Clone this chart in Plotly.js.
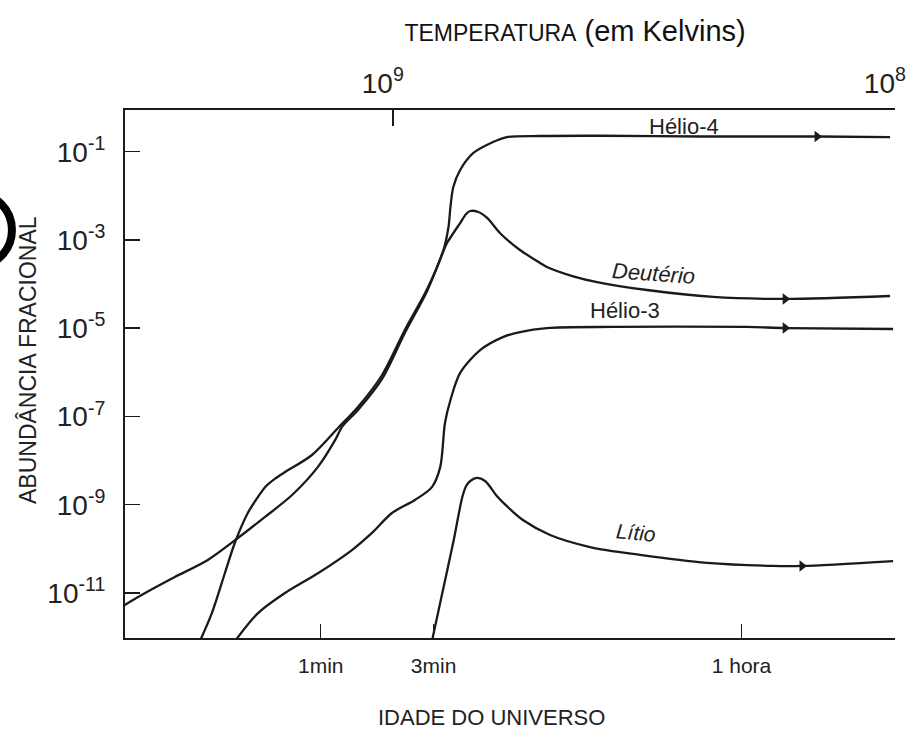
<!DOCTYPE html>
<html>
<head>
<meta charset="utf-8">
<script src="https://cdn.plot.ly/plotly-3.0.1.min.js"></script>
<style>html,body{margin:0;padding:0;background:#fff;}#chart{width:907px;height:734px;}</style>
</head>
<body>
<div id="chart"></div>
<script>
// ---- Data (time in seconds, fractional abundance) ----
const timeHe4 = [17.8, 20.8, 23.6, 26.0, 29.5, 32.6, 34.9, 38.5, 42.4, 55.1, 71.0, 86.2, 109, 136, 169, 198, 208, 212, 218, 233, 265, 321, 367, 507, 908, 2404, 7516, 15280];
const abundHe4 = [5.1e-13, 3.5e-12, 2.8e-11, 1.36e-10, 6.5e-10, 1.50e-9, 2.5e-9, 3.9e-9, 5.5e-9, 1.34e-8, 5.5e-8, 1.64e-7, 8.7e-7, 9.1e-6, 7.7e-5, 5.9e-4, 1.97e-3, 5.6e-3, 1.58e-2, 3.85e-2, 9.35e-2, 0.166, 0.215, 0.227, 0.23, 0.221, 0.221, 0.215];

const timeD = [8.5, 10.5, 14.5, 20.0, 26.8, 34.9, 45.4, 58.4, 69.0, 73.8, 86.2, 109, 136, 169, 198, 205, 233, 247, 257, 278, 303, 343, 417, 507, 542, 700, 883, 1436, 2729, 5508, 15280];
const abundD = [4.6e-12, 9.0e-12, 2.3e-11, 5.6e-11, 1.76e-10, 5.3e-10, 1.66e-9, 7.2e-9, 2.9e-8, 5.8e-8, 1.40e-7, 7.1e-7, 7.8e-6, 7.0e-5, 5.6e-4, 8.5e-4, 2.42e-3, 3.87e-3, 4.53e-3, 4.31e-3, 3.15e-3, 1.44e-3, 5.92e-4, 3.01e-4, 2.44e-4, 1.5e-4, 1.11e-4, 7.35e-5, 5.11e-5, 4.6e-5, 5.37e-5];

const timeHe3 = [25.3, 32.6, 42.4, 58.4, 81.3, 98.8, 120, 150, 177, 192, 201, 212, 233, 283, 353, 417, 542, 1031, 3801, 5508, 15740];
const abundHe3 = [6.6e-13, 3.5e-12, 1.0e-11, 2.8e-11, 9.4e-11, 2.3e-10, 6.5e-10, 1.28e-9, 2.5e-9, 7.2e-9, 7.1e-8, 2.36e-7, 9.7e-7, 3.2e-6, 6.3e-6, 8.2e-6, 1.01e-5, 1.07e-5, 1.07e-5, 1.01e-5, 9.6e-6];

const timeLi = [175.6, 193, 218, 238, 247, 257, 275, 297, 333, 378, 429, 559, 824, 1341, 2575, 4897, 6486, 15740];
const abundLi = [6.6e-13, 6.9e-12, 1.43e-10, 1.50e-9, 2.66e-9, 3.45e-9, 4.04e-9, 3.45e-9, 1.58e-9, 8.0e-10, 4.5e-10, 2.06e-10, 1.10e-10, 7.3e-11, 4.8e-11, 4.1e-11, 4.1e-11, 5.3e-11];

// arrowheads along the curves (time, abundance)
const arrowTimes = [7516, 5508, 5508, 6486];
const arrowAbund = [0.221, 4.6e-5, 1.01e-5, 4.1e-11];

// axis ticks
const ageTickVals = [60, 180, 3600];
const ageTickText = ['1min', '3min', '1 hora'];
const tempTickTimes = [121, 16010];
const tempTickText = ['10<sup>9</sup>', '10<sup>8</sup>'];
const abundTickVals = [1e-1, 1e-3, 1e-5, 1e-7, 1e-9, 1e-11];
const abundTickText = ['10<sup>-1</sup>', '10<sup>-3</sup>', '10<sup>-5</sup>', '10<sup>-7</sup>', '10<sup>-9</sup>', '10<sup>-11</sup>'];

const seriesNames = ['Hélio-4', 'Deutério', 'Hélio-3', 'Lítio'];

// ---- Figure ----
const ink = '#1a1a1a';
const lineStyle = {color: ink, width: 2.3, shape: 'spline', smoothing: 0.85};
const series = [[timeHe4, abundHe4], [timeD, abundD], [timeHe3, abundHe3], [timeLi, abundLi]];
const traces = series.map((s, i) => ({
  type: 'scatter', mode: 'lines', x: s[0], y: s[1], name: seriesNames[i],
  line: lineStyle, hoverinfo: 'x+y+name'
}));
traces.push({
  type: 'scatter', mode: 'markers', x: arrowTimes, y: arrowAbund,
  marker: {symbol: 'triangle-right', size: 10, color: ink}, hoverinfo: 'skip', showlegend: false
});
traces.push({
  type: 'scatter', mode: 'markers', x: tempTickTimes, y: [null, null], xaxis: 'x2',
  hoverinfo: 'skip', showlegend: false
});

const narrow = 'Liberation Sans Narrow, Arial Narrow, Liberation Sans, sans-serif';
const sans = 'Liberation Sans, Arial, sans-serif';
const xRange = [0.951, 4.205];

const layout = {
  width: 907, height: 734,
  margin: {l: 125, r: 12, t: 110, b: 96},
  paper_bgcolor: '#ffffff', plot_bgcolor: '#ffffff',
  showlegend: false,
  title: {
    text: '<span style="font-size:23px">TEMPERATURA</span> (em Kelvins)',
    font: {family: sans, size: 29, color: '#111'},
    x: 0.634, xref: 'container', xanchor: 'center',
    y: 0.958, yref: 'container', yanchor: 'middle'
  },
  xaxis: {
    type: 'log', range: xRange, tickmode: 'array', tickvals: ageTickVals, ticktext: ageTickText,
    ticks: 'inside', ticklen: 14, tickwidth: 1.5, tickcolor: ink,
    showline: true, linewidth: 2, linecolor: ink, showgrid: false, zeroline: false,
    tickfont: {family: sans, size: 21, color: '#222'}, ticklabelstandoff: 8
  },
  xaxis2: {
    type: 'log', range: xRange, overlaying: 'x', side: 'top', anchor: 'y',
    tickmode: 'array', tickvals: tempTickTimes, ticktext: tempTickText,
    ticks: 'inside', ticklen: 16, tickwidth: 1.5, tickcolor: ink,
    showline: true, linewidth: 2, linecolor: ink, showgrid: false, zeroline: false,
    tickfont: {family: narrow, size: 28, color: '#222'}, ticklabelshift: -10, ticklabelstandoff: 4
  },
  yaxis: {
    type: 'log', range: [-12.02, -0.055], tickmode: 'array', tickvals: abundTickVals, ticktext: abundTickText,
    ticks: 'inside', ticklen: 15, tickwidth: 1.5, tickcolor: ink,
    showline: true, linewidth: 2, linecolor: ink, showgrid: false, zeroline: false,
    tickfont: {family: narrow, size: 28, color: '#222'}, ticklabelstandoff: 12
  },
  annotations: [
    {text: 'IDADE DO UNIVERSO', xref: 'paper', yref: 'paper', x: 0.4766, y: -0.1515,
     xanchor: 'center', yanchor: 'middle', showarrow: false, font: {family: sans, size: 22, color: '#222'}},
    {text: 'ABUNDÂNCIA FRACIONAL', xref: 'paper', yref: 'paper', x: -0.126, y: 0.5265, textangle: -90,
     xanchor: 'center', yanchor: 'middle', showarrow: false, font: {family: sans, size: 23, color: '#222'}},
    {text: 'Hélio-4', xref: 'paper', yref: 'paper', x: 0.726, y: 0.968, xanchor: 'center', yanchor: 'middle',
     showarrow: false, font: {family: sans, size: 22, color: '#222'}},
    {text: '<i>Deutério</i>', xref: 'paper', yref: 'paper', x: 0.687, y: 0.691, xanchor: 'center', yanchor: 'middle',
     textangle: 4, showarrow: false, font: {family: sans, size: 22, color: '#222'}},
    {text: 'Hélio-3', xref: 'paper', yref: 'paper', x: 0.649, y: 0.621, xanchor: 'center', yanchor: 'middle',
     showarrow: false, font: {family: sans, size: 22, color: '#222'}},
    {text: '<i>Lítio</i>', xref: 'paper', yref: 'paper', x: 0.664, y: 0.199, xanchor: 'center', yanchor: 'middle',
     textangle: 5, showarrow: false, font: {family: sans, size: 21, color: '#222'}}
  ],
  shapes: [
    {type: 'circle', xref: 'paper', yref: 'paper', x0: -0.2429, x1: -0.1468, y0: 0.7027, y1: 0.8428,
     line: {color: '#000', width: 8}}
  ]
};

Plotly.newPlot('chart', traces, layout, {displayModeBar: false, staticPlot: true});
</script>
</body>
</html>
